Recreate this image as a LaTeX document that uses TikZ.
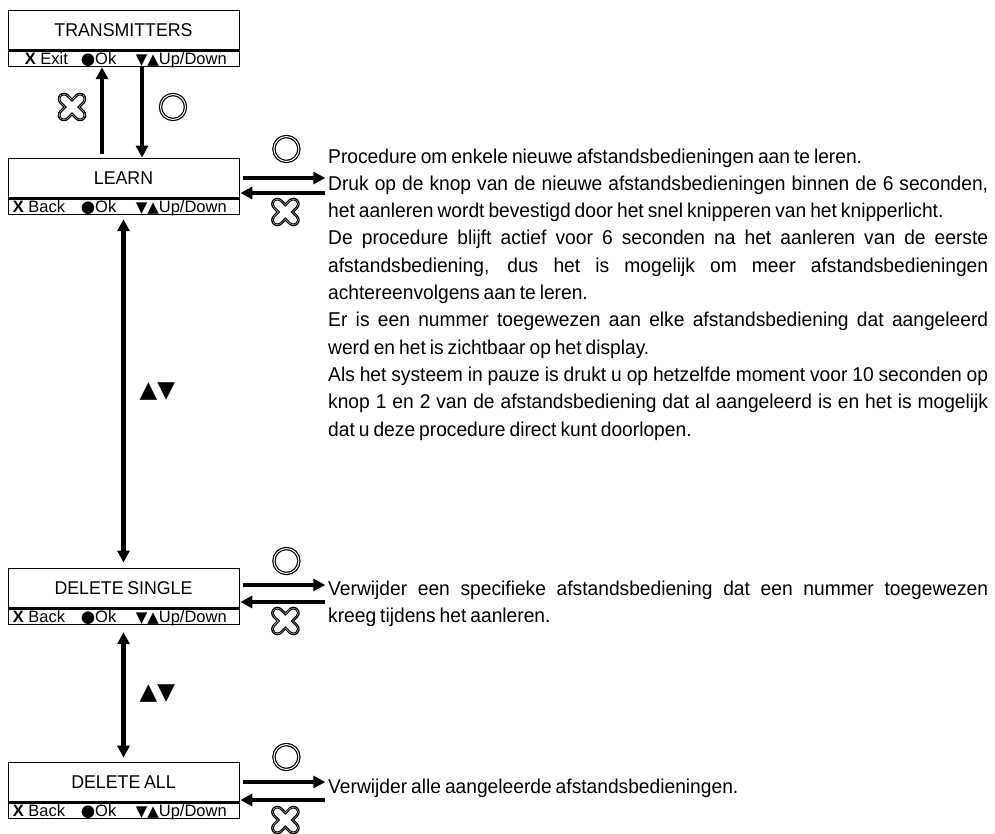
\documentclass[tikz,border=0pt]{standalone}
\usepackage{fontspec}
\setmainfont{Liberation Sans}[FakeStretch=0.96, WordSpace={0.75,1.5,1.5}]
\newfontfamily\barfont{Liberation Sans}
\newfontfamily\symfont{DejaVu Sans}
\usetikzlibrary{arrows.meta}

\tikzset{
  screen/.style={draw, line width=0.8pt, minimum width=231pt, minimum height=40pt,
    inner sep=0pt, font=\fontsize{18.5}{20}\selectfont},
  keybar/.style={draw, line width=0.8pt, minimum width=231pt, minimum height=16pt, inner sep=0pt},
  keytext/.style={anchor=base west, inner sep=0pt, font=\barfont\fontsize{16.5}{17}\selectfont},
  divider/.style={line width=2.6pt},
  flow/.style={line width=4.2pt, -{Triangle[length=12pt,width=12pt]}},
  updown/.style={line width=4.2pt, {Triangle[length=12pt,width=12pt]}-{Triangle[length=12pt,width=12pt]}},
  navlabel/.style={inner sep=0pt, font=\symfont\fontsize{23}{23}\selectfont},
  ok/.style={circle, draw, line width=1.2pt, double, double distance=1pt, minimum size=25pt, inner sep=0pt},
  info/.style={anchor=north west, inner sep=0pt, text width=660pt, align=justify,
    font=\fontsize{20}{27.3}\selectfont,
    execute at begin node={\parindent=0pt\tolerance=10000\hbadness=10000\hyphenpenalty=10000\exhyphenpenalty=10000}},
  cancel/.pic={
    \draw[line width=12.6pt, line cap=round] (-8,-8) -- (8,8) (-8,8) -- (8,-8);
    \draw[white, line width=10.2pt, line cap=round] (-8,-8) -- (8,8) (-8,8) -- (8,-8);
    \draw[line width=9.4pt, line cap=round] (-8,-8) -- (8,8) (-8,8) -- (8,-8);
    \draw[white, line width=7pt, line cap=round] (-8,-8) -- (8,8) (-8,8) -- (8,-8);
  }
}

\begin{document}
\begin{tikzpicture}[x=1pt,y=-1pt]
\useasboundingbox (0,0) rectangle (995,834);

% screens
\node[screen] (trans) at (123.5,30) {TRANSMITTERS};
\node[keybar, anchor=north] (transbar) at (trans.south) {};
\draw[divider] (trans.south west) -- (trans.south east);
\node[keytext] (transkeyx) at ([xshift=17pt,yshift=3pt]transbar.south west) {\textbf{X} Exit};
\node[keytext] (transkeyok) at ([xshift=73pt,yshift=3pt]transbar.south west) {{\symfont ●}Ok};
\node[keytext] (transkeynav) at ([xshift=128pt,yshift=3pt]transbar.south west) {{\symfont\fontsize{15}{15}\selectfont ▼▲}Up/Down};

\node[screen] (learn) at (123.5,178) {LEARN};
\node[keybar, anchor=north] (learnbar) at (learn.south) {};
\draw[divider] (learn.south west) -- (learn.south east);
\node[keytext] (learnkeyx) at ([xshift=5pt,yshift=3pt]learnbar.south west) {\textbf{X} Back};
\node[keytext] (learnkeyok) at ([xshift=73pt,yshift=3pt]learnbar.south west) {{\symfont ●}Ok};
\node[keytext] (learnkeynav) at ([xshift=128pt,yshift=3pt]learnbar.south west) {{\symfont\fontsize{15}{15}\selectfont ▼▲}Up/Down};

\node[screen] (single) at (123.5,588) {DELETE SINGLE};
\node[keybar, anchor=north] (singlebar) at (single.south) {};
\draw[divider] (single.south west) -- (single.south east);
\node[keytext] (singlekeyx) at ([xshift=5pt,yshift=3pt]singlebar.south west) {\textbf{X} Back};
\node[keytext] (singlekeyok) at ([xshift=73pt,yshift=3pt]singlebar.south west) {{\symfont ●}Ok};
\node[keytext] (singlekeynav) at ([xshift=128pt,yshift=3pt]singlebar.south west) {{\symfont\fontsize{15}{15}\selectfont ▼▲}Up/Down};

\node[screen] (all) at (123.5,782) {DELETE ALL};
\node[keybar, anchor=north] (allbar) at (all.south) {};
\draw[divider] (all.south west) -- (all.south east);
\node[keytext] (allkeyx) at ([xshift=5pt,yshift=3pt]allbar.south west) {\textbf{X} Back};
\node[keytext] (allkeyok) at ([xshift=73pt,yshift=3pt]allbar.south west) {{\symfont ●}Ok};
\node[keytext] (allkeynav) at ([xshift=128pt,yshift=3pt]allbar.south west) {{\symfont\fontsize{15}{15}\selectfont ▼▲}Up/Down};

% transmitters <-> learn
\draw[flow, shorten <=4pt] ([xshift=-21.5pt]learn.north) -- ([xshift=-21.5pt]transbar.south);
\draw[flow] ([xshift=18.5pt]transbar.south) -- ([xshift=18.5pt]learn.north);
\pic (transback) at (72,107) {cancel};
\node[ok] (transok) at (173,107) {};

% up / down between screens
\draw[updown, shorten <=4pt, shorten >=5pt] (learnbar.south) -- (single.north)
  node[midway, right=14pt, navlabel] (learnnav) {▲▼};
\draw[updown, shorten <=7pt, shorten >=4pt] (singlebar.south) -- (all.north)
  node[midway, right=14pt, navlabel] (singlenav) {▲▼};

% descriptions
\node[info] (learninfo) at (328,148.4) {Procedure om enkele nieuwe afstandsbedieningen aan te leren.\par
Druk op de knop van de nieuwe afstandsbedieningen binnen de 6 seconden,\linebreak
het aanleren wordt bevestigd door het snel knipperen van het knipperlicht.\par
De procedure blijft actief voor 6 seconden na het aanleren van de eerste\linebreak
afstandsbediening, dus het is mogelijk om meer afstandsbedieningen\linebreak
achtereenvolgens aan te leren.\par
Er is een nummer toegewezen aan elke afstandsbediening dat aangeleerd\linebreak
werd en het is zichtbaar op het display.\par
Als het systeem in pauze is drukt u op hetzelfde moment voor 10 seconden op\linebreak
knop 1 en 2 van de afstandsbediening dat al aangeleerd is en het is mogelijk\linebreak
dat u deze procedure direct kunt doorlopen.};
\node[info] (singleinfo) at (328,580.4) {Verwijder een specifieke afstandsbediening dat een nummer toegewezen\linebreak
kreeg tijdens het aanleren.};
\node[info] (allinfo) at (328,778.4) {Verwijder alle aangeleerde afstandsbedieningen.};

% ok / back beside each screen
\draw[flow] ([xshift=4pt]learn.east) -- ([xshift=86pt]learn.east);
\draw[flow] ([xshift=86pt,yshift=-15pt]learn.east) -- ([xshift=1pt,yshift=-15pt]learn.east);
\node[ok] (learnok) at ([xshift=47pt,yshift=29pt]learn.east) {};
\pic (learnback) at ([xshift=46pt,yshift=-34pt]learn.east) {cancel};

\draw[flow] ([xshift=4pt,yshift=3pt]single.east) -- ([xshift=86pt,yshift=3pt]single.east);
\draw[flow] ([xshift=86pt,yshift=-14pt]single.east) -- ([xshift=1pt,yshift=-14pt]single.east);
\node[ok] (singleok) at ([xshift=47pt,yshift=27pt]single.east) {};
\pic (singleback) at ([xshift=46pt,yshift=-33pt]single.east) {cancel};

\draw[flow] ([xshift=4pt]all.east) -- ([xshift=86pt]all.east);
\draw[flow] ([xshift=86pt,yshift=-18pt]all.east) -- ([xshift=1pt,yshift=-18pt]all.east);
\node[ok] (allok) at ([xshift=47pt,yshift=25pt]all.east) {};
\pic (allback) at ([xshift=46pt,yshift=-38pt]all.east) {cancel};
\end{tikzpicture}
\end{document}
